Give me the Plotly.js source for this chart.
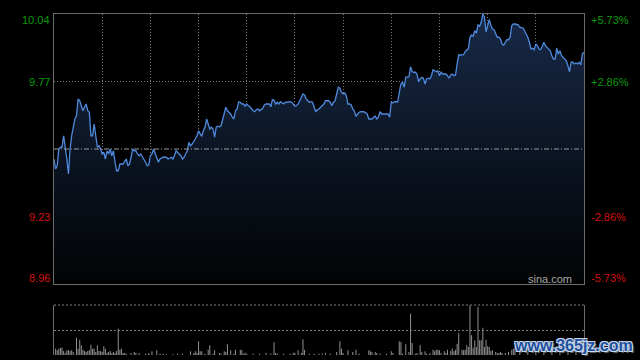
<!DOCTYPE html>
<html>
<head>
<meta charset="utf-8">
<script src="https://cdn.plot.ly/plotly-3.0.1.min.js"></script>
<style>html,body{margin:0;padding:0;background:#000;}#chart{width:640px;height:360px;}</style>
</head>
<body>
<div id="chart"></div>
<script>
// ---- data (HK session, minute index 0..330 from 09:30) ----
const prevClose = 9.50;
const priceTicks = [10.04, 9.77, 9.23, 8.96];
const pctLabels = ['+5.73%', '+2.86%', '-2.86%', '-5.73%'];
const gridMinutes = [30, 60, 90, 120, 150, 180, 210, 240, 270, 300];

const priceMin = [
0,1,2,3,4,5,6,7,8,9,10,11,13,14,15,16,17,18,19,20,21,22,23,24,25,26,27,28,29,30,31,32,33,34,35,36,37,38,39,40,41,
43,44,45,46,47,48,49,50,51,52,53,54,56,57,58,59,60,61,62,63,64,65,66,67,68,70,71,72,73,74,75,76,77,78,79,80,81,82,83,84,
85,86,87,88,89,90,91,92,93,94,95,96,97,98,99,100,101,102,103,104,105,106,107,108,109,110,111,112,113,114,115,116,117,118,119,120,121,122,
124,125,126,127,128,129,130,131,132,133,134,135,136,137,138,139,140,141,142,143,144,
146,147,148,149,150,151,152,153,154,155,156,157,158,159,160,161,162,163,164,165,166,
168,169,170,171,172,173,174,175,176,177,178,179,180,181,182,183,184,185,186,187,188,189,190,191,192,193,
195,196,197,198,199,200,201,202,203,204,205,206,207,208,209,210,211,212,213,214,215,216,217,218,219,220,221,222,223,224,225,226,227,228,229,230,
231,232,233,234,235,236,237,238,239,240,241,242,243,244,245,246,247,248,
249,250,251,252,253,254,255,256,257,258,259,260,261,262,263,264,265,266,267,268,269,270,271,272,273,274,275,276,277,278,279,280,281,282,283,284,285,286,287,
289,290,291,292,293,294,295,296,297,298,299,300,301,302,303,304,305,306,307,308,309,310,311,312,313,314,315,316,317,318,319,320,321,322,323,324,325,326,327,328,329,330
];
const priceVal = [
9.460,9.420,9.433,9.500,9.507,9.507,9.553,9.513,9.460,9.400,9.500,9.553,9.620,9.633,9.700,9.693,9.673,9.653,9.667,9.680,9.653,9.647,9.553,9.553,9.600,9.540,9.507,9.513,9.500,9.480,9.487,9.460,9.493,9.480,9.500,9.473,9.493,9.447,9.413,9.413,9.440,
9.440,9.453,9.460,9.433,9.440,9.467,9.500,9.493,9.493,9.480,9.473,9.480,9.460,9.447,9.433,9.436,9.473,9.480,9.500,9.480,9.460,9.447,9.460,9.463,9.467,9.467,9.460,9.463,9.467,9.460,9.473,9.493,9.487,9.480,9.473,9.460,9.467,9.480,9.493,9.527,
9.513,9.520,9.529,9.540,9.553,9.573,9.560,9.551,9.573,9.587,9.620,9.600,9.580,9.587,9.580,9.547,9.587,9.591,9.589,9.593,9.620,9.640,9.667,9.653,9.647,9.640,9.627,9.620,9.653,9.660,9.689,9.687,9.680,9.680,9.671,9.680,9.673,9.669,
9.653,9.649,9.657,9.660,9.653,9.660,9.663,9.676,9.680,9.680,9.680,9.669,9.697,9.696,9.680,9.687,9.680,9.689,9.684,9.680,9.687,
9.689,9.689,9.687,9.680,9.671,9.673,9.680,9.693,9.707,9.720,9.716,9.700,9.693,9.687,9.689,9.687,9.667,9.649,9.657,9.660,9.667,
9.680,9.693,9.693,9.693,9.687,9.673,9.687,9.693,9.720,9.747,9.743,9.727,9.720,9.724,9.713,9.680,9.680,9.677,9.660,9.653,9.631,9.640,9.647,9.649,9.649,9.649,
9.640,9.620,9.620,9.620,9.627,9.631,9.620,9.627,9.649,9.640,9.640,9.640,9.640,9.640,9.627,9.689,9.684,9.689,9.689,9.689,9.727,9.760,9.767,9.747,9.787,9.789,9.789,9.829,9.809,9.807,9.807,9.800,9.769,9.780,9.787,9.783,
9.760,9.780,9.783,9.780,9.793,9.817,9.811,9.809,9.813,9.793,9.807,9.800,9.800,9.800,9.793,9.783,9.796,9.800,
9.793,9.796,9.840,9.876,9.876,9.876,9.877,9.889,9.897,9.900,9.947,9.956,9.951,9.973,9.964,9.996,9.991,10.007,10.040,10.027,9.969,9.993,10.017,9.996,9.980,9.977,9.960,9.947,9.947,9.940,9.920,9.916,9.927,9.937,9.937,9.947,9.993,10.000,10.000,
9.997,9.987,9.987,9.984,9.973,9.960,9.947,9.927,9.900,9.903,9.897,9.920,9.913,9.900,9.897,9.911,9.927,9.913,9.907,9.903,9.893,9.873,9.860,9.860,9.903,9.880,9.893,9.873,9.867,9.860,9.853,9.833,9.809,9.847,9.847,9.840,9.844,9.840,9.847,9.836,9.880,9.887
];

const volMin = [
1,2,3,4,5,6,7,8,9,10,11,12,14,15,16,17,18,19,20,21,22,23,24,25,26,27,28,29,30,31,32,33,34,35,36,37,38,39,40,41,42,43,44,45,48,50,51,53,57,59,61,64,66,68,70,74,77,80,
85,87,88,89,90,91,92,94,96,97,99,100,103,104,106,107,108,110,112,113,116,117,118,119,120,124,128,132,135,137,138,139,143,147,149,150,152,154,155,156,159,162,165,
167,169,172,176,178,179,180,183,186,188,190,196,197,198,200,201,203,207,210,211,215,216,217,219,221,222,223,225,226,228,229,231,232,234,236,237,238,239,240,241,243,244,245,247,248,249,250,251,252,254,255,256,257,258,259,260,261,262,263,264,265,266,267,268,269,270,271,272,273,275,276,277,278,279,281,283,285,286,287,
290,295,300,305,310,315,320,325,330
];
const volVal = [
6.3,4.7,6.3,7.3,7.3,4,2,4.7,4.7,4,4.7,3,17.3,6.3,15.3,9.7,5.3,4,3,4,4.7,10.3,6.3,6.3,3,9.7,4,4,3,8.7,6.3,2.3,3,4,2,3,2,4,26.3,5.3,6.3,2,2,1.3,2,3,2,2,1.3,2,3.7,4.7,1.3,1.3,0.7,0.7,1.3,1.3,
3.7,2,3.7,2,13.7,3.7,3.7,1.3,5.3,9.7,1.3,4.7,2,1.3,3.7,3,10.7,4.7,1.3,5.3,5.3,4.7,1.3,2.3,1.3,1.3,1.3,2.3,1.3,12.7,2,1.3,1.3,1.3,2.3,2.3,4.7,2,15.7,5.3,1.3,1.3,1.3,
1.3,2.3,1.3,3,13.7,6.3,2,4.7,3,5.3,1.3,4.7,3.7,3,3,2,1.3,1.3,3.7,2,13.7,13,1.3,10.7,3,41.3,12,1.3,2,9.7,3,3.7,1.3,2,5.3,3.7,5.3,5.3,4.7,2,3.7,2,5.3,4,6.3,3.7,5.3,11.3,22,5.3,4.7,5.3,9.7,8,49.7,19.7,7.3,14.7,8,48,14.7,14.7,27.3,8,15.3,8.7,8,4,4.7,3,2,2,3,2,2,3,5.3,6.3,8,
4,3,5,3,4,3,4,3,6
];

// ---- chart ----
const green = '#0b9a0b', red = '#d41010';
const traces = [
  {
    x: priceMin, y: priceVal, type: 'scatter', mode: 'lines',
    xaxis: 'x', yaxis: 'y',
    line: {color: '#4f8ade', width: 1.3},
    fill: 'tozeroy',
    fillgradient: {type: 'vertical', start: 8.96, stop: 10.04,
      colorscale: [[0, '#020304'], [0.5, '#0c1524'], [1, '#182a48']]},
    hoverinfo: 'skip', cliponaxis: true
  },
  {
    x: volMin, y: volVal, type: 'bar', xaxis: 'x2', yaxis: 'y2',
    width: 0.65, marker: {color: '#8c8c8c', line: {width: 0}},
    hoverinfo: 'skip'
  }
];

const annotations = [];
priceTicks.forEach((v, i) => {
  const col = v > prevClose ? green : red;
  const ys = i === 0 ? -6 : (i === priceTicks.length - 1 ? 6 : 0);
  annotations.push({xref: 'paper', x: 0, xanchor: 'right', xshift: -2, yref: 'y', y: v, yanchor: 'middle', yshift: ys,
    text: v.toFixed(2), showarrow: false, font: {family: 'Liberation Sans, Arial', size: 11, color: col}});
  annotations.push({xref: 'paper', x: 1, xanchor: 'left', xshift: 5, yref: 'y', y: v, yanchor: 'middle', yshift: ys,
    text: pctLabels[i], showarrow: false, font: {family: 'Liberation Sans, Arial', size: 11, color: col}});
});
annotations.push({xref: 'paper', x: 1, xanchor: 'right', xshift: -10, yref: 'paper', y: 0.2229, yanchor: 'middle',
  text: 'sina.com', showarrow: false, font: {family: 'Liberation Sans, Arial', size: 11, color: '#a8a8a8'}});
annotations.push({xref: 'paper', x: 1, xanchor: 'right', xshift: 51, yref: 'paper', y: 0, yanchor: 'middle', yshift: 10,
  text: 'www.365jz.com', showarrow: false,
  font: {family: 'Liberation Sans, Arial', size: 16, weight: 'bold', color: '#1f4f9a',
    shadow: '1px 1px 0 #c9d9ee, -1px -1px 0 #c9d9ee, 1px -1px 0 #c9d9ee, -1px 1px 0 #c9d9ee, 2px 2px 1px #666'}});

const axisBase = {showticklabels: false, ticks: '', zeroline: false, fixedrange: true};
const layout = {
  width: 640, height: 360,
  margin: {l: 54, r: 56, t: 14, b: 5, pad: 0},
  paper_bgcolor: '#000', plot_bgcolor: '#000',
  showlegend: false,
  xaxis: Object.assign({}, axisBase, {domain: [0, 1], range: [0, 330], anchor: 'y',
    tickvals: gridMinutes, showgrid: true, gridcolor: '#7c7c7c', gridwidth: 1, griddash: '1px,2px',
    showline: true, mirror: true, linecolor: '#6b6b6b', linewidth: 1}),
  yaxis: Object.assign({}, axisBase, {domain: [0.2082, 1], range: [8.96, 10.04], anchor: 'x',
    tickvals: [9.23, 9.77], showgrid: true, gridcolor: '#7c7c7c', gridwidth: 1, griddash: '1px,2px',
    showline: true, mirror: true, linecolor: '#6b6b6b', linewidth: 1}),
  xaxis2: Object.assign({}, axisBase, {domain: [0, 1], range: [0, 330], anchor: 'y2',
    showgrid: false, showline: false}),
  yaxis2: Object.assign({}, axisBase, {domain: [0, 0.1466], range: [0, 50], anchor: 'x2',
    tickvals: [25], showgrid: true, gridcolor: '#7c7c7c', gridwidth: 1, griddash: '2px,2px',
    showline: true, mirror: true, linecolor: '#6b6b6b', linewidth: 1}),
  shapes: [
    {type: 'line', xref: 'paper', x0: 0, x1: 1, yref: 'y', y0: prevClose, y1: prevClose,
      line: {color: '#9c9c9c', width: 1, dash: '5px,2px,1px,2px'}},
    {type: 'line', xref: 'paper', x0: 0, x1: 1, yref: 'y2 domain', y0: 1, y1: 1,
      line: {color: '#7c7c7c', width: 1, dash: '2px,2px'}}
  ],
  annotations: annotations
};

Plotly.newPlot('chart', traces, layout, {staticPlot: true, displayModeBar: false});
</script>
</body>
</html>
